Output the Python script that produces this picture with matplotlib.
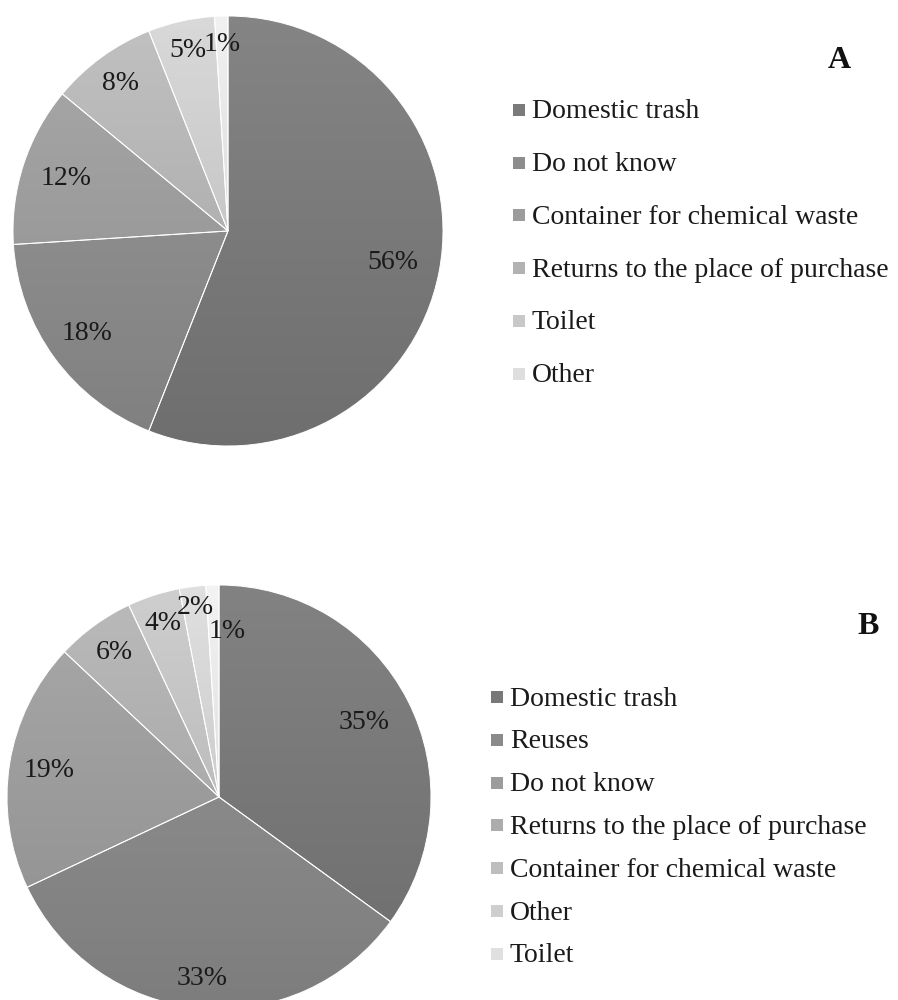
import numpy as np
import matplotlib
matplotlib.use("Agg")
import matplotlib.pyplot as plt
from matplotlib.patches import Rectangle
from matplotlib.colors import LinearSegmentedColormap, to_rgb

plt.rcParams['font.family'] = ['Liberation Serif', 'DejaVu Serif']

# ---------------- data ----------------
labels_a = ["Domestic trash", "Do not know", "Container for chemical waste",
            "Returns to the place of purchase", "Toilet", "Other"]
values_a = [56, 18, 12, 8, 5, 1]

labels_b = ["Domestic trash", "Reuses", "Do not know",
            "Returns to the place of purchase", "Container for chemical waste",
            "Other", "Toilet"]
values_b = [35, 33, 19, 6, 4, 2, 1]

# ---------------- style ----------------
colors_a = ['#7a7a7a', '#8d8d8d', '#9c9c9c', '#b2b2b2', '#c8c8c8', '#dedede']
colors_b = ['#787878', '#8a8a8a', '#9c9c9c', '#acacac', '#bebebe', '#cecece', '#e0e0e0']
dist_a = [0.78, 0.81, 0.79, 0.85, 0.86, 0.87]
shift_a = [0, 0, 0, 0, 0, 0]
dist_b = [0.77, 0.86, 0.81, 0.84, 0.86, 0.90, 0.78]
shift_b = [0, 0, 0, 0, 0, 0, -4.6]

W, H = 898, 1000
fig = plt.figure(figsize=(W / 100, H / 100), dpi=100)
fig.patch.set_facecolor('white')


def draw_pie(cx, cy, r, values, colors, dists, shifts):
    ax = fig.add_axes([(cx - r) / W, 1 - (cy + r) / H, 2 * r / W, 2 * r / H])
    wedges, _ = ax.pie(values, colors=colors, startangle=90, counterclock=False,
                       wedgeprops=dict(edgecolor='white', linewidth=0.7))
    grad = np.linspace(0, 1, 256).reshape(-1, 1)
    for w, c in zip(wedges, colors):
        rgb = np.array(to_rgb(c))
        light = np.clip(rgb * 1.09, 0, 1)
        dark = rgb * 0.90
        cmap = LinearSegmentedColormap.from_list('g', [light, dark])
        im = ax.imshow(grad, cmap=cmap, extent=(-1.05, 1.05, -1.05, 1.05),
                       origin='upper', aspect='auto', interpolation='bicubic',
                       zorder=1)
        im.set_clip_path(w)
        w.set_facecolor('none')
        w.set_zorder(2)
    total = float(sum(values))
    cum = 0.0
    for v, d, s in zip(values, dists, shifts):
        mid = 90 - 360 * (cum + v / 2) / total + s
        cum += v
        t = np.deg2rad(mid)
        ax.text(d * np.cos(t), d * np.sin(t), f"{v}%", ha='center', va='center',
                fontsize=20, color='#1a1a1a', zorder=3)
    ax.set_xlim(-1, 1)
    ax.set_ylim(-1, 1)
    ax.set_axis_off()
    return ax


draw_pie(228, 231, 215, values_a, colors_a, dist_a, shift_a)
draw_pie(219, 797, 212, values_b, colors_b, dist_b, shift_b)


def draw_legend(labels, colors, x_mark, x_text, y0, step, size=12):
    for i, (lab, c) in enumerate(zip(labels, colors)):
        y = y0 + i * step
        fig.add_artist(Rectangle((x_mark / W, 1 - (y + size / 2) / H), size / W, size / H,
                                 transform=fig.transFigure, facecolor=c,
                                 edgecolor='none'))
        fig.text(x_text / W, 1 - (y + 2) / H, lab, ha='left', va='center',
                 fontsize=20, color='#1a1a1a')


draw_legend(labels_a, colors_a, 513, 532, 110, 52.7)
draw_legend(labels_b, colors_b, 491, 510, 697, 42.8)

fig.text(839 / W, 1 - 60 / H, "A", ha='center', va='center', fontsize=23,
         fontweight='bold', color='#111111')
fig.text(868 / W, 1 - 627 / H, "B", ha='center', va='center', fontsize=23,
         fontweight='bold', color='#111111')

fig.savefig("out.png", dpi=100, facecolor='white')
